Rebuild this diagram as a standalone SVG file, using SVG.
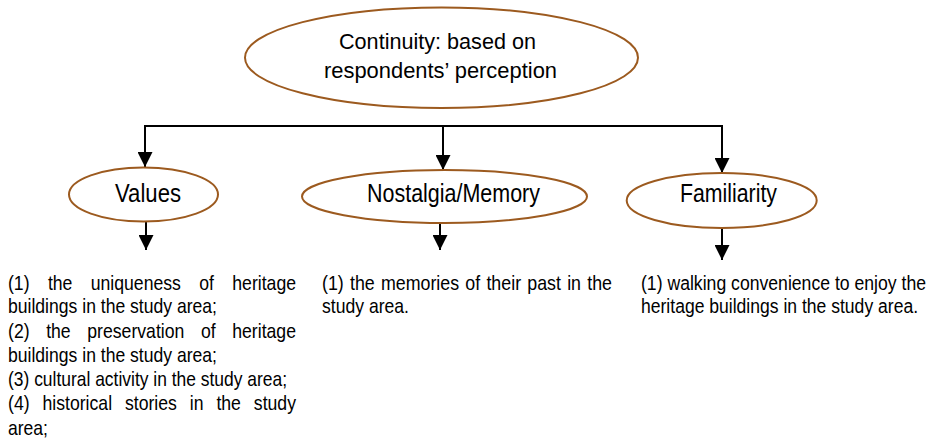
<svg xmlns="http://www.w3.org/2000/svg" width="940" height="440" viewBox="0 0 940 440">
<style>
.node ellipse{fill:#fff;stroke:#9c5a1f;stroke-width:2}
.t{font-family:"Liberation Sans",Arial,sans-serif;fill:#000}
.big{font-size:22.5px}
.lab{font-size:25.5px}
.body{font-size:21px}
.conn{stroke:#000;stroke-width:2;fill:none}
</style>
<defs>
<marker id="ah" markerWidth="15" markerHeight="15" refX="15" refY="7.5" orient="auto" markerUnits="userSpaceOnUse" viewBox="0 0 15 15">
<path d="M0,0 L15,7.5 L0,15 Z" fill="#000"/>
</marker>
</defs>
<rect width="940" height="440" fill="#fff"/>
<g id="connectors">
<path class="conn" d="M145,126 H722"/>
<path class="conn" d="M145,125 V167" marker-end="url(#ah)"/>
<path class="conn" d="M443,126 V170" marker-end="url(#ah)"/>
<path class="conn" d="M722,125 V173" marker-end="url(#ah)"/>
<path class="conn" d="M146,215 V250" marker-end="url(#ah)"/>
<path class="conn" d="M440,217 V250" marker-end="url(#ah)"/>
<path class="conn" d="M722,228 V260" marker-end="url(#ah)"/>
</g>
<g id="continuity" class="node">
<ellipse cx="441.5" cy="57.7" rx="196.5" ry="50.3"/>
<text class="t big" x="339" y="49" textLength="197" lengthAdjust="spacingAndGlyphs">Continuity: based on</text>
<text class="t big" x="324" y="77.5" textLength="233" lengthAdjust="spacingAndGlyphs">respondents’ perception</text>
</g>
<g id="values" class="node">
<ellipse cx="143.5" cy="194.5" rx="74.5" ry="27"/>
<text class="t lab" x="115" y="201.7" textLength="66" lengthAdjust="spacingAndGlyphs">Values</text>
</g>
<g id="nostalgia" class="node">
<ellipse cx="444.5" cy="196.5" rx="142.5" ry="26.5"/>
<text class="t lab" x="367" y="201.7" textLength="173" lengthAdjust="spacingAndGlyphs">Nostalgia/Memory</text>
</g>
<g id="familiarity" class="node">
<ellipse cx="721.7" cy="200.5" rx="95" ry="27.5"/>
<text class="t lab" x="680" y="201.7" textLength="97" lengthAdjust="spacingAndGlyphs">Familiarity</text>
</g>
<g id="values-text">
<text class="t body" x="8" y="290" textLength="288" lengthAdjust="spacingAndGlyphs" style="word-spacing:16px">(1) the uniqueness of heritage</text>
<text class="t body" x="8" y="313" textLength="209" lengthAdjust="spacingAndGlyphs">buildings in the study area;</text>
<text class="t body" x="8" y="337.5" textLength="288" lengthAdjust="spacingAndGlyphs" style="word-spacing:13.9px">(2) the preservation of heritage</text>
<text class="t body" x="8" y="362" textLength="209" lengthAdjust="spacingAndGlyphs">buildings in the study area;</text>
<text class="t body" x="8" y="386" textLength="279" lengthAdjust="spacingAndGlyphs">(3) cultural activity in the study area;</text>
<text class="t body" x="8" y="410" textLength="288" lengthAdjust="spacingAndGlyphs" style="word-spacing:9.5px">(4) historical stories in the study</text>
<text class="t body" x="8" y="435" textLength="40" lengthAdjust="spacingAndGlyphs">area;</text>
</g>
<g id="nostalgia-text">
<text class="t body" x="322" y="290" textLength="290" lengthAdjust="spacingAndGlyphs" style="word-spacing:1.5px">(1) the memories of their past in the</text>
<text class="t body" x="322" y="313" textLength="87" lengthAdjust="spacingAndGlyphs">study area.</text>
</g>
<g id="familiarity-text">
<text class="t body" transform="translate(641,290) scale(0.84,1)" x="0" y="0" textLength="339.3" lengthAdjust="spacingAndGlyphs">(1) walking convenience to enjoy the</text>
<text class="t body" transform="translate(641,313) scale(0.84,1)" x="0" y="0" textLength="329.8" lengthAdjust="spacingAndGlyphs">heritage buildings in the study area.</text>
</g>
</svg>
